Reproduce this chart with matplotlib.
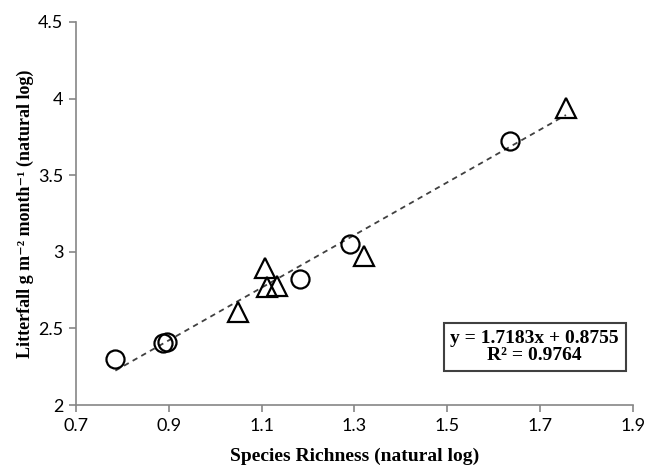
import matplotlib
matplotlib.use("Agg")
import matplotlib.pyplot as plt
import numpy as np

# Data
circle_x = [0.785, 0.888, 0.897, 1.182, 1.290, 1.635]
circle_y = [2.30, 2.405, 2.41, 2.82, 3.05, 3.725]
tri_x = [1.050, 1.108, 1.112, 1.134, 1.320, 1.756]
tri_y = [2.61, 2.895, 2.77, 2.78, 2.97, 3.94]
slope = 1.7183
intercept = 0.8755
r2 = 0.9764
xticks = [0.7, 0.9, 1.1, 1.3, 1.5, 1.7, 1.9]
yticks = [2, 2.5, 3, 3.5, 4, 4.5]

serif = ["Liberation Serif", "DejaVu Serif"]

fig = plt.figure(figsize=(6.49, 4.68), dpi=100)
ax = fig.add_axes([0.117, 0.1346, 0.858, 0.8184])

allx = np.array(circle_x + tri_x)
xl = np.array([allx.min(), allx.max()])
ax.plot(xl, slope * xl + intercept, linestyle=(0, (3, 2.5)), color="#404040", lw=1.3, zorder=1)

ax.plot(circle_x, circle_y, linestyle="none", marker="o", ms=13, mfc="none", mec="black", mew=1.6, zorder=3)
ax.plot(tri_x, tri_y, linestyle="none", marker="^", ms=14, mfc="none", mec="black", mew=1.6, zorder=3)

ax.set_xlim(0.7, 1.9)
ax.set_ylim(2, 4.5)
ax.set_xticks(xticks)
ax.set_yticks(yticks)
ax.set_xticklabels(["0.7", "0.9", "1.1", "1.3", "1.5", "1.7", "1.9"])
ax.set_yticklabels(["2", "2.5", "3", "3.5", "4", "4.5"])

for s in ["top", "right"]:
    ax.spines[s].set_visible(False)
for s in ["left", "bottom"]:
    ax.spines[s].set_color("#868686")
    ax.spines[s].set_linewidth(1.2)
ax.tick_params(axis="both", direction="out", length=5, width=1.2, color="#868686",
               labelsize=13, pad=4)
for lab in ax.get_xticklabels() + ax.get_yticklabels():
    lab.set_fontfamily("Lato")

ax.set_xlabel("Species Richness (natural log)", fontfamily=serif,
              fontweight="bold", fontsize=14, labelpad=10)
ax.set_ylabel("Litterfall g m\u207b\u00b2 month\u207b\u00b9 (natural log)",
              fontfamily=serif, fontweight="bold", fontsize=13, labelpad=3)

ax.text(0.824, 0.151, "y = %.4fx + %.4f\nR² = %.4f" % (slope, intercept, r2),
        transform=ax.transAxes, ha="center", va="center", multialignment="center",
        fontfamily=serif, fontweight="bold", fontsize=14, linespacing=1.0,
        bbox=dict(boxstyle="square,pad=0.35", fc="white", ec="#404040", lw=1.5))

fig.savefig("out.png", dpi=100)
